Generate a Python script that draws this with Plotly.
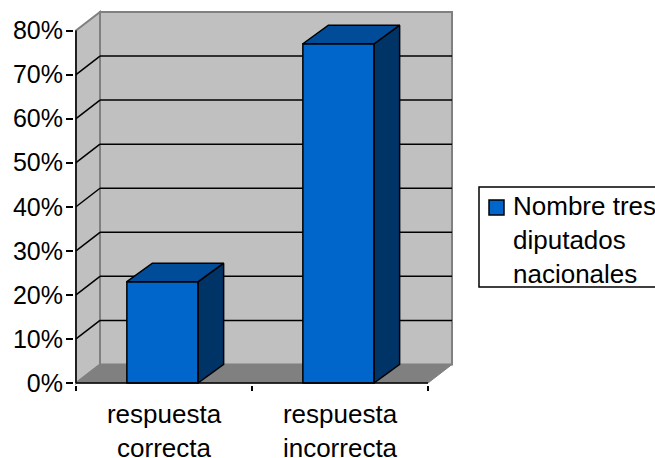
import plotly.graph_objects as go

categories = ["respuesta<br>correcta", "respuesta<br>incorrecta"]
values = [0.23, 0.77]
series_name = "Nombre tres<br>diputados<br>nacionales"
y_ticks = [0, 0.1, 0.2, 0.3, 0.4, 0.5, 0.6, 0.7, 0.8]

FONT = "Liberation Sans, Arial, sans-serif"
FONT_SIZE = 26
WALL, FLOOR, EDGE = "#C0C0C0", "#808080", "#808080"
FRONT, SIDE, TOP = "#0066CC", "#003366", "#004C99"
DX, DY = 24 / 176, 18.5 / 440      # oblique depth of the 3D box, in data units
BAR_DX = 25.5 / 176                # depth of the bars
BAR_SHIFT = -1.5 / 176             # bars sit slightly left of the category centre
PADX, PADY = 2 / 176, 2 / 440      # keeps edge lines from being clipped
BAR_W = 0.405
XL, XR = -0.5, 1.5
YMAX = y_ticks[-1]
W, H = 655, 458
ML, MR, MT, MB = 74, 201, 10, 73


def px(x):
    return (x - ML) / (W - ML - MR)


def py(y):
    return (H - MB - y) / (H - MT - MB)


fig = go.Figure()


def poly(xs, ys, fill, line, width=1.5):
    return dict(type="path", layer="below", fillcolor=fill,
                line=dict(color=line, width=width),
                path="M " + " L ".join(f"{x},{y}" for x, y in zip(xs, ys)) + " Z")


shapes = [
    poly([XL, XL + DX, XL + DX, XL], [0, DY, YMAX + DY, YMAX], WALL, EDGE, 2),
    poly([XL + DX, XR + DX, XR + DX, XL + DX], [DY, DY, YMAX + DY, YMAX + DY], WALL, EDGE, 2),
    poly([XL, XL + DX, XR + DX, XR], [0, DY, DY, 0], FLOOR, EDGE, 1),
]
for v in y_ticks[1:-1]:
    shapes.append(dict(type="line", layer="below", x0=XL, y0=v, x1=XL + DX, y1=v + DY,
                       line=dict(color="black", width=1.5)))
    shapes.append(dict(type="line", layer="below", x0=XL + DX, y0=v + DY, x1=XR + DX, y1=v + DY,
                       line=dict(color="black", width=1.5)))
shapes.append(dict(type="line", x0=XL, y0=0, x1=XL, y1=YMAX, line=dict(color="black", width=1.5)))
shapes.append(dict(type="line", x0=XL, y0=0, x1=XR, y1=0, line=dict(color="black", width=1.5)))

# legend box and key
shapes.append(dict(type="rect", xref="paper", yref="paper", x0=px(479), x1=px(662), y0=py(287), y1=py(187),
                   fillcolor="white", line=dict(color="black", width=1.5)))
shapes.append(dict(type="rect", xref="paper", yref="paper", x0=px(489), x1=px(504), y0=py(215), y1=py(200),
                   fillcolor=FRONT, line=dict(color="black", width=1.5)))

for i, v in enumerate(values):
    c = i + BAR_SHIFT
    l, r = c - BAR_W / 2, c + BAR_W / 2
    fig.add_trace(go.Scatter(x=[r, r + BAR_DX, r + BAR_DX, r, r], y=[0, DY, v + DY, v, 0], mode="lines",
                             fill="toself", fillcolor=SIDE, line=dict(color="black", width=1.5),
                             showlegend=False, hoverinfo="skip"))
    fig.add_trace(go.Scatter(x=[l, l + BAR_DX, r + BAR_DX, r, l], y=[v, v + DY, v + DY, v, v], mode="lines",
                             fill="toself", fillcolor=TOP, line=dict(color="black", width=1.5),
                             showlegend=False, hoverinfo="skip"))

fig.add_trace(go.Bar(x=[BAR_SHIFT, 1 + BAR_SHIFT], y=values, width=BAR_W, name=series_name.replace("<br>", " "),
                     showlegend=False,
                     marker=dict(color=FRONT, line=dict(color="black", width=1.5))))

fig.update_layout(
    width=W, height=H,
    margin=dict(l=ML, r=MR, t=MT, b=MB, autoexpand=False),
    paper_bgcolor="white", plot_bgcolor="rgba(0,0,0,0)",
    font=dict(family=FONT, size=FONT_SIZE, color="black"),
    shapes=shapes, showlegend=False,
    annotations=[dict(text=series_name, xref="paper", yref="paper", x=px(510.5), y=py(240),
                      xanchor="left", yanchor="middle", align="left", showarrow=False,
                      font=dict(family=FONT, size=FONT_SIZE, color="black"))],
    xaxis=dict(range=[XL - PADX, XR + DX + PADX], tickmode="array", tickvals=[0, 1], ticktext=categories,
               ticks="", showgrid=False, zeroline=False, showline=False,
               tickangle=0, ticklabelstandoff=11,
               minor=dict(tickmode="array", tickvals=[XL, 0.5, XR], ticks="outside",
                          ticklen=5, tickwidth=1.5, tickcolor="black", showgrid=False)),
    yaxis=dict(range=[-PADY, YMAX + DY + PADY], tickmode="array", tickvals=y_ticks, tickformat=".0%",
               tickfont=dict(size=25),
               ticks="outside", ticklen=7, tickwidth=1.5, tickcolor="black", ticklabelstandoff=-2,
               showgrid=False, zeroline=False, showline=False),
)

fig.write_html("out.html", post_script="document.body.style.margin='0';",
               config=dict(displayModeBar=False))
